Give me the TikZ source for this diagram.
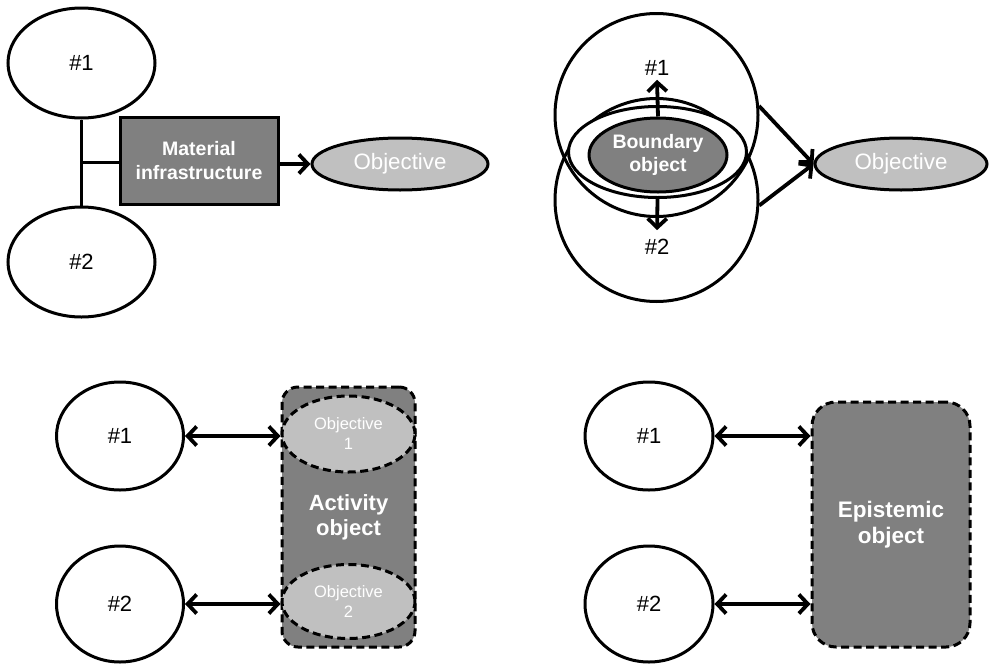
\documentclass[tikz,border=0pt]{standalone}
\usepackage{fontspec}
\setmainfont{Liberation Sans}
\usetikzlibrary{shapes.geometric,arrows.meta,calc}

\definecolor{darkfill}{HTML}{808080}
\definecolor{lightfill}{HTML}{C0C0C0}

\newcommand{\fs}[1]{\fontsize{#1}{25}\selectfont}

\begin{document}
\begin{tikzpicture}[x=1pt,y=-1pt,
  actor/.style={draw,line width=3pt,ellipse,fill=white,inner sep=0pt,font=\fs{22}},
  goal/.style={draw,line width=3pt,ellipse,fill=lightfill,inner sep=0pt,text=white,font=\fs{22.3},
    minimum width=174,minimum height=52},
  darkbox/.style={draw,line width=3pt,fill=darkfill,text=white,align=center,inner sep=0pt},
  dashline/.style={line width=3pt,dash pattern=on 8pt off 4.5pt},
  onearrow/.style={line width=3.8pt,-{Straight Barb[length=9pt,width=19pt]}},
  twoarrow/.style={line width=3.8pt,{Straight Barb[length=9pt,width=19pt]}-{Straight Barb[length=9pt,width=19pt]}},
  plainline/.style={line width=3.6pt},
]
\useasboundingbox (0,0) rectangle (990,664);

% ---------- material infrastructure ----------
\node[actor,minimum width=147,minimum height=110] (a1) at (81.5,63) {\#1};
\node[actor,minimum width=147,minimum height=110] (a2) at (81.5,262) {\#2};
\node[darkbox,minimum width=158,minimum height=87,
      font=\bfseries\fontsize{19.5}{24}\selectfont] (mi) at (199,161) {Material\\infrastructure};
\node[goal,minimum width=176] (g1) at (400,164) {Objective};
\coordinate (j) at ($(a1.south)!0.5!(a2.north)$);
\draw[plainline] (a1.south) -- (a2.north);
\draw[plainline] (j) -- (j -| mi.west);
\draw[onearrow] (mi.east |- g1.west) -- (g1.west);

% ---------- boundary object ----------
\node[draw,line width=3pt,circle,minimum size=203,inner sep=0pt] (c1) at (656.5,115) {};
\node[draw,line width=3pt,circle,minimum size=203,inner sep=0pt] (c2) at (656.5,200) {};
\node[draw,line width=3pt,ellipse,fill=white,minimum width=178,minimum height=91,inner sep=0pt] (bo) at (657.5,152) {};
\node[draw,line width=3pt,ellipse,fill=darkfill,minimum width=138,minimum height=74,inner sep=0pt,
      text=white,align=center,font=\bfseries\fontsize{19.5}{23}\selectfont] (bi) at (658,155) {Boundary\\object};
\node[font=\fs{22},inner sep=4pt] (l1) at (657,68) {\#1};
\node[font=\fs{22},inner sep=4pt] (l2) at (657,247) {\#2};
\draw[onearrow] (bi.north) -- (l1.south);
\draw[onearrow,shorten >=5pt] (bo.south) -- (l2.north);
\node[goal,minimum width=172] (g2) at (901,164) {Objective};
\draw[onearrow] (c1.5) -- (g2.west);
\draw[onearrow] (c2.-3) -- (g2.west);

% ---------- activity object ----------
\node[actor,minimum width=127,minimum height=108] (b1) at (120,436) {\#1};
\node[actor,minimum width=127,minimum height=116] (b2) at (120,604) {\#2};
\node[draw,dashline,fill=darkfill,rounded corners=16pt,minimum width=133,minimum height=260,
      inner sep=0pt] (ao) at (348.5,517) {};
\node[draw,dashline,ellipse,fill=lightfill,minimum width=133,minimum height=76,inner sep=0pt,
      text=white,align=center,font=\fontsize{16.5}{20}\selectfont] (o1) at (348.5,434) {Objective\\1};
\node[draw,dashline,ellipse,fill=lightfill,minimum width=133,minimum height=74,inner sep=0pt,
      text=white,align=center,font=\fontsize{16.5}{20}\selectfont] (o2) at (348.5,601.5) {Objective\\2};
\node[text=white,align=center,font=\bfseries\fontsize{22}{25}\selectfont] (at) at (348.5,517) {Activity\\object};
\draw[twoarrow] (b1.east) -- (o1.west |- b1.east);
\draw[twoarrow] (b2.east) -- (o2.west |- b2.east);

% ---------- epistemic object ----------
\node[actor,minimum width=128,minimum height=108] (d1) at (649,436) {\#1};
\node[actor,minimum width=128,minimum height=116] (d2) at (649,604) {\#2};
\node[draw,dashline,fill=darkfill,rounded corners=24pt,minimum width=158,minimum height=245,
      inner sep=0pt,text=white,align=center,font=\bfseries\fontsize{22.5}{26}\selectfont]
      (eo) at (891,524.5) {Epistemic\\object};
\draw[twoarrow] (d1.east) -- (eo.west |- d1.east);
\draw[twoarrow] (d2.east) -- (eo.west |- d2.east);
\end{tikzpicture}
\end{document}
